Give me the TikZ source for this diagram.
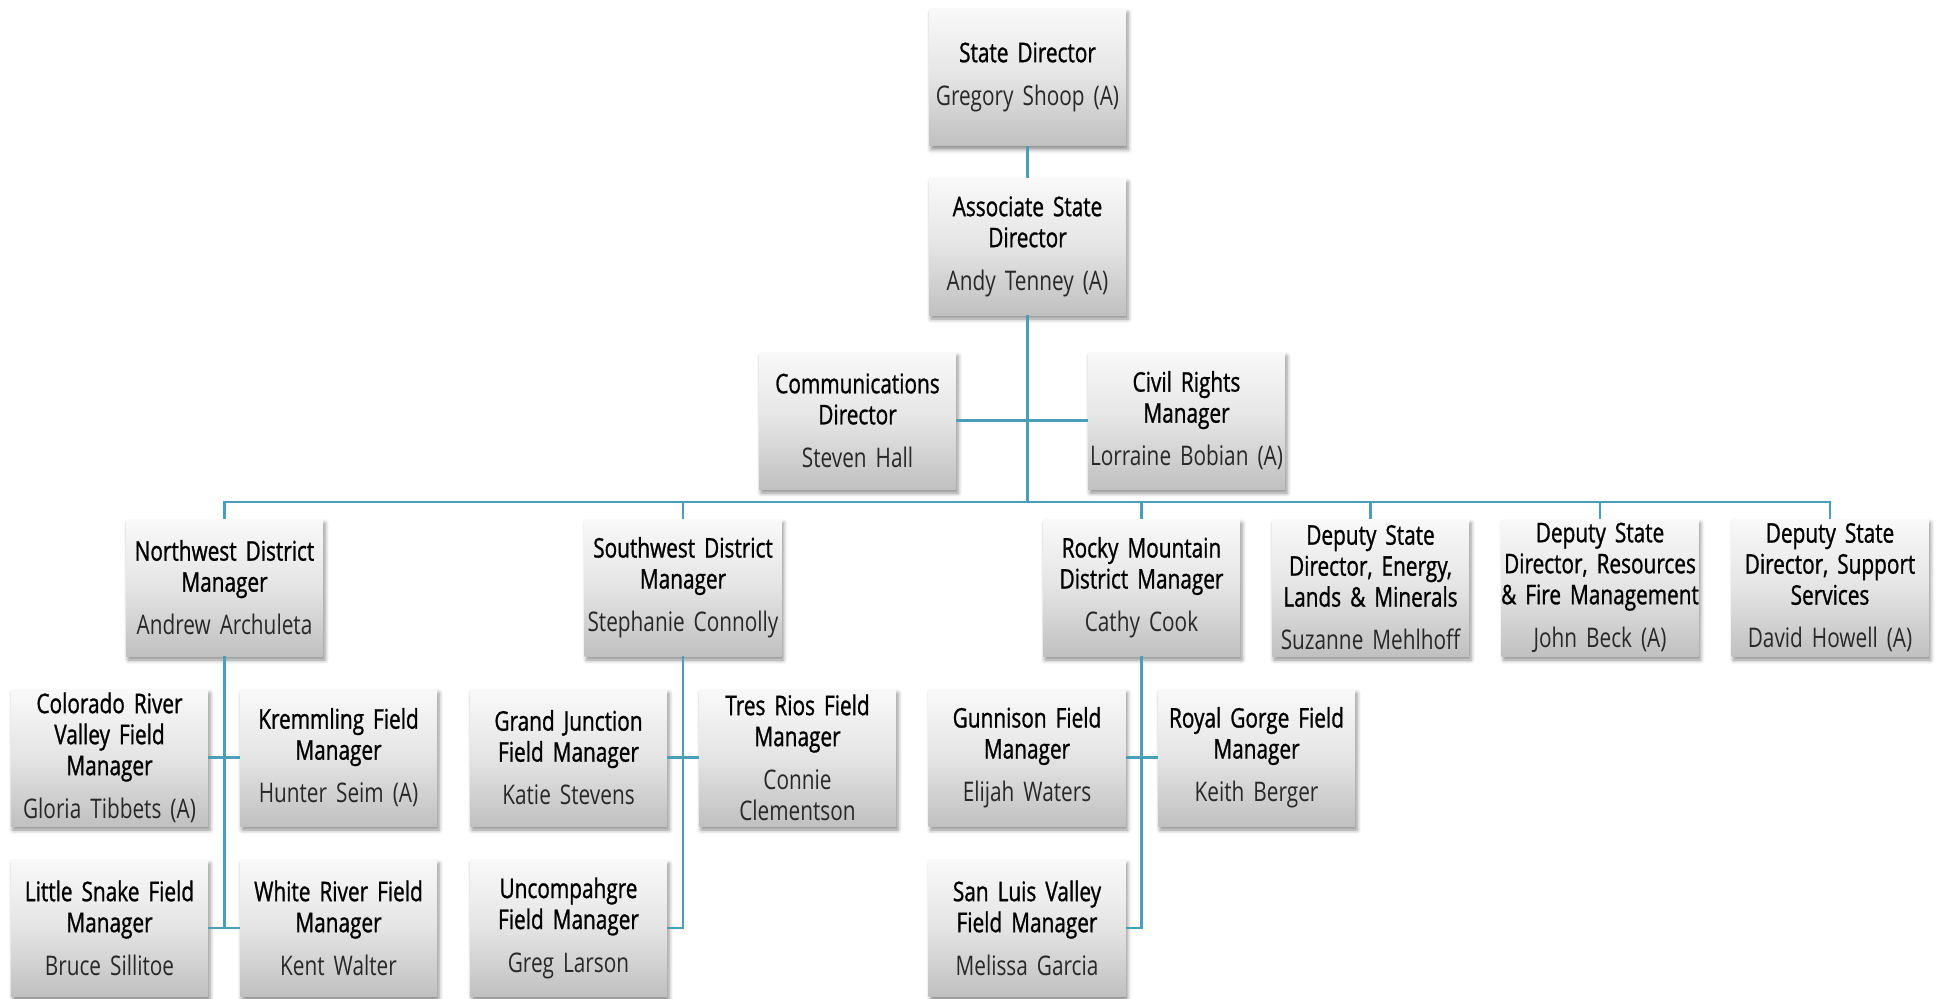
\documentclass[tikz,border=0pt]{standalone}
\usepackage{fontspec}
\setmainfont[FakeStretch=0.77]{Open Sans}
\newfontfamily\titlefont[FakeStretch=0.77,FakeBold=1.0]{Open Sans}
\usetikzlibrary{shadows.blur}
\definecolor{linecol}{RGB}{74,158,183}
\definecolor{namecol}{RGB}{40,40,40}
\definecolor{boxtop}{RGB}{249,249,249}
\definecolor{boxmid}{RGB}{228,228,228}
\definecolor{boxbot}{RGB}{192,192,192}
\hyphenpenalty=10000
\newcommand\card[2]{{\titlefont\color{black}#1}\\[12bp]\color{namecol}#2}
\tikzset{
  card/.style={minimum width=197bp, minimum height=137bp, inner ysep=0pt,
    inner xsep=-21.5bp, text width=240bp, align=center,
    font=\fontsize{27bp}{31bp}\selectfont,
    top color=boxtop, bottom color=boxbot, middle color=boxmid,
    blur shadow={shadow xshift=2bp, shadow yshift=-4bp, shadow blur radius=4bp, shadow opacity=45}},
  conn/.style={draw=linecol, line width=2.5bp}
}
\begin{document}
\begin{tikzpicture}[x=1bp,y=1bp]
\useasboundingbox (0,0) rectangle (1938,-998);
% nodes
\node[card] (sd)    at (1027.5,-77)   {\card{State Director}{Gregory Shoop (A)}};
\node[card] (asd)   at (1027.5,-246.5){\card{Associate State\\Director}{Andy Tenney (A)}};
\node[card] (comms) at (857.5,-420.5) {\card{Communications\\Director}{Steven Hall}};
\node[card] (civil) at (1186.5,-420.5){\card{Civil Rights\\Manager}{Lorraine Bobian (A)}};
\node[card] (nw)    at (224.5,-587.5) {\card{Northwest District\\Manager}{Andrew Archuleta}};
\node[card] (sw)    at (683,-587.5)   {\card{Southwest District\\Manager}{Stephanie Connolly}};
\node[card] (rocky) at (1141.5,-587.5){\card{Rocky Mountain\\District Manager}{Cathy Cook}};
\node[card] (energy) at (1370.5,-587.5){\card{Deputy State\\Director, Energy,\\Lands \& Minerals}{Suzanne Mehlhoff}};
\node[card] (res)   at (1600,-587.5)  {\card{Deputy State\\Director, Resources\\\& Fire Management}{John Beck (A)}};
\node[card] (supp)  at (1830,-587.5)  {\card{Deputy State\\Director, Support\\Services}{David Howell (A)}};
\node[card] (crv)   at (109.5,-757.5) {\card{Colorado River\\Valley Field\\Manager}{Gloria Tibbets (A)}};
\node[card] (krem)  at (338.5,-757.5) {\card{Kremmling Field\\Manager}{Hunter Seim (A)}};
\node[card] (ls)    at (109.5,-928)   {\card{Little Snake Field\\Manager}{Bruce Sillitoe}};
\node[card] (wr)    at (338.5,-928)   {\card{White River Field\\Manager}{Kent Walter}};
\node[card] (gj)    at (568.5,-757.5) {\card{Grand Junction\\Field Manager}{Katie Stevens}};
\node[card] (tr)    at (797.5,-757.5) {\card{Tres Rios Field\\Manager}{Connie\\Clementson}};
\node[card] (unc)   at (568.5,-928)   {\card{Uncompahgre\\Field Manager}{Greg Larson}};
\node[card] (gun)   at (1027,-757.5)  {\card{Gunnison Field\\Manager}{Elijah Waters}};
\node[card] (rg)    at (1256.5,-757.5){\card{Royal Gorge Field\\Manager}{Keith Berger}};
\node[card] (slv)   at (1027,-928)    {\card{San Luis Valley\\Field Manager}{Melissa Garcia}};
\coordinate (bus) at (1027.5,-502);
% connectors
\draw[conn] (sd.south) -- (asd.north);
\draw[conn] (asd.south) -- (bus);
\draw[conn] (comms.east) -- (civil.west);
\draw[conn] (nw.north) |- (bus) -| (supp.north);
\draw[conn] (sw.north) -- (sw.north |- bus);
\draw[conn] (rocky.north) -- (rocky.north |- bus);
\draw[conn] (energy.north) -- (energy.north |- bus);
\draw[conn] (res.north) -- (res.north |- bus);
\draw[conn] (nw.south) -- (nw.south |- ls.east);
\draw[conn] (crv.east) -- (krem.west);
\draw[conn] (ls.east) -- (wr.west);
\draw[conn] (sw.south) |- (unc.east);
\draw[conn] (gj.east) -- (tr.west);
\draw[conn] (rocky.south) |- (slv.east);
\draw[conn] (gun.east) -- (rg.west);
\end{tikzpicture}
\end{document}
